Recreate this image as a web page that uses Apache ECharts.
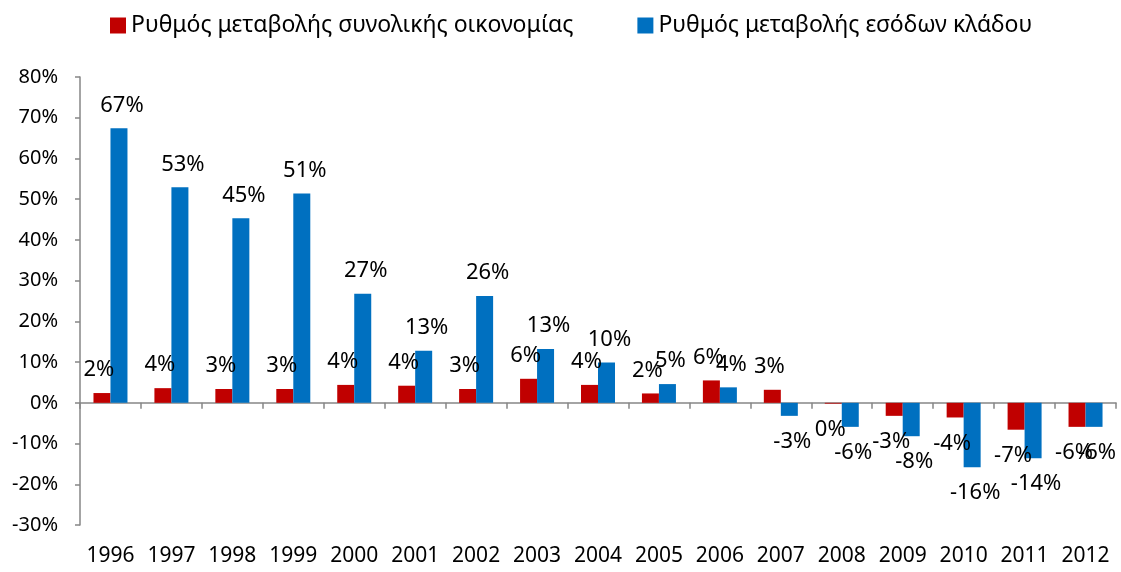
<!DOCTYPE html>
<html>
<head>
<meta charset="utf-8">
<script src="https://cdn.jsdelivr.net/npm/echarts@6/dist/echarts.min.js"></script>
<style>
  html, body { margin: 0; padding: 0; background: #fff; }
  #main { width: 1121px; height: 572px; }
</style>
</head>
<body>
<div id="main"></div>
<script>
var years = ['1996', '1997', '1998', '1999', '2000', '2001', '2002', '2003', '2004',
  '2005', '2006', '2007', '2008', '2009', '2010', '2011', '2012'];
// Ρυθμός μεταβολής συνολικής οικονομίας (%)
var economy = [2.4, 3.6, 3.4, 3.4, 4.4, 4.2, 3.4, 5.9, 4.4, 2.3, 5.5, 3.2, -0.2, -3.2, -3.6, -6.6, -5.9];
// Ρυθμός μεταβολής εσόδων κλάδου (%)
var sector = [67.4, 52.9, 45.3, 51.4, 26.8, 12.8, 26.2, 13.2, 9.9, 4.6, 3.8, -3.2, -5.9, -8.2, -15.8, -13.6, -5.9];
var yTicks = [-30, -20, -10, 0, 10, 20, 30, 40, 50, 60, 70, 80];

var font = 'Noto Sans';
var axisGrey = '#868686';

function withLabels(values) {
  return values.map(function (v) {
    return {
      value: v,
      label: v >= 0 ? { position: 'top', distance: 12 } : { position: 'bottom', distance: 15 }
    };
  });
}

var labelStyle = {
  show: true,
  color: '#000',
  fontFamily: font,
  fontSize: 22,
  formatter: function (p) { return Math.round(p.value) + '%'; }
};

var chart = echarts.init(document.getElementById('main'));
var option = {
  animation: false,
  textStyle: { fontFamily: font },
  legend: {
    top: 9,
    left: 105,
    itemWidth: 16,
    itemHeight: 16,
    itemGap: 64,
    icon: 'rect',
    textStyle: { fontFamily: font, fontSize: 23, color: '#000' },
    data: ['Ρυθμός μεταβολής συνολικής οικονομίας', 'Ρυθμός μεταβολής εσόδων κλάδου']
  },
  grid: { left: 80, right: 5, top: 77, bottom: 47 },
  xAxis: [
    {
      type: 'category',
      data: years,
      axisLine: { onZero: true, lineStyle: { color: axisGrey, width: 1.5 } },
      axisTick: { show: true, length: 6, lineStyle: { color: axisGrey, width: 1.5 } },
      axisLabel: { show: false }
    },
    {
      type: 'category',
      data: years,
      position: 'bottom',
      axisLine: { show: false, onZero: false },
      axisTick: { show: false },
      axisLabel: { interval: 0, color: '#000', fontFamily: font, fontSize: 21, margin: 21 }
    }
  ],
  yAxis: {
    type: 'value',
    min: yTicks[0],
    max: yTicks[yTicks.length - 1],
    interval: 10,
    axisLine: { show: true, lineStyle: { color: axisGrey, width: 1.5 } },
    axisTick: { show: true, length: 5, lineStyle: { color: axisGrey, width: 1.5 } },
    splitLine: { show: false },
    axisLabel: {
      color: '#000',
      fontFamily: font,
      fontSize: 20,
      margin: 22,
      formatter: function (v) { return v + '%'; }
    }
  },
  series: [
    {
      name: 'Ρυθμός μεταβολής συνολικής οικονομίας',
      type: 'bar',
      xAxisIndex: 0,
      barWidth: 17,
      barGap: '0%',
      itemStyle: { color: '#C00000' },
      label: Object.assign({}, labelStyle, { offset: [-3, 0] }),
      data: withLabels(economy)
    },
    {
      name: 'Ρυθμός μεταβολής εσόδων κλάδου',
      type: 'bar',
      xAxisIndex: 0,
      barWidth: 17,
      barGap: '0%',
      itemStyle: { color: '#0070C0' },
      label: Object.assign({}, labelStyle, { offset: [3, 0] }),
      data: withLabels(sector)
    }
  ]
};
chart.setOption(option);
</script>
</body>
</html>
